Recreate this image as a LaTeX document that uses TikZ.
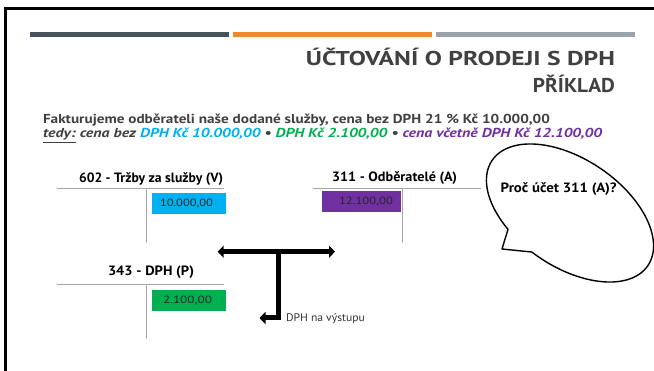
\documentclass[tikz,border=0pt]{standalone}
\usepackage{fontspec}
\setmainfont{PT Sans}
\usepackage{graphicx}
\usetikzlibrary{arrows.meta}
\definecolor{titlegray}{HTML}{404040}
\definecolor{bardark}{HTML}{47535A}
\definecolor{barorange}{HTML}{EE8A2D}
\definecolor{bargray}{HTML}{9AA2AA}
\definecolor{tacc}{HTML}{A6A6A6}
\definecolor{dcyan}{HTML}{00B0F0}
\definecolor{dgreen}{HTML}{00B050}
\definecolor{dpurple}{HTML}{7030A0}
\newcommand\fitto[2]{\resizebox{#1}{\height}{#2}}
\begin{document}
\begin{tikzpicture}[x=1pt,y=-1pt,
  txt/.style={inner sep=0pt, outer sep=0pt, anchor=base west},
  tacline/.style={draw=tacc, line width=1.4pt},
  amtbox/.style={inner sep=0pt, outer sep=0pt, anchor=north west},
  amt/.style={inner sep=0pt, outer sep=0pt, anchor=base west, text=black!85, font=\fontsize{10.5}{12}\selectfont},
  hdr/.style={inner sep=0pt, outer sep=0pt, anchor=base west, text=black, font=\fontsize{13.5}{16}\selectfont\bfseries},
  bigarrow/.style={line width=5pt, line join=miter},
  bubble/.style={draw=black, line width=1.4pt, line join=round}]
\useasboundingbox (0,0) rectangle (654,371);

% frame
\draw[line width=3pt, line join=miter] (5.5,371) -- (5.5,8.2) -- (654,8.2);

% top bars
\fill[bardark] (30,32) rectangle (229,37);
\fill[barorange] (233,32) rectangle (432,37);
\fill[bargray] (436,32) rectangle (635,37);

% title
\node[txt, anchor=base east, text=titlegray, font=\fontsize{20}{24}\selectfont\bfseries] (title1) at (615,66) {\fitto{309pt}{ÚČTOVÁNÍ O PRODEJI S DPH}};
\node[txt, anchor=base east, text=titlegray, font=\fontsize{20}{24}\selectfont\bfseries] (title2) at (615,93) {\fitto{82pt}{PŘÍKLAD}};

% subtitle
\node[txt, text=titlegray, font=\fontsize{13}{15}\selectfont\bfseries] (sub1) at (43,123.5) {\fitto{507pt}{Fakturujeme odběrateli naše dodané služby, cena bez DPH 21 \% Kč 10.000,00}};
\node[txt, text=titlegray, font=\fontsize{13}{15}\selectfont\bfseries\itshape] (sub2) at (43,138) {\fitto{559pt}{\underline{tedy:} cena bez \textcolor{dcyan}{DPH Kč 10.000,00} • \textcolor{dgreen}{DPH Kč 2.100,00} • \textcolor{dpurple}{cena včetně DPH Kč 12.100,00}}};

% account 602
\node[hdr] (h602) at (79,182.7) {\fitto{144pt}{602 - Tržby za služby (V)}};
\coordinate (l602a) at (57,188.3);
\coordinate (l602b) at (224,188.3);
\coordinate (v602a) at (146.7,188.3);
\coordinate (v602b) at (146.7,243);
\draw[tacline] (l602a) -- (l602b);
\draw[tacline] (v602a) -- (v602b);
\node[amtbox, fill=dcyan, minimum width=74pt, minimum height=21.3pt] (b602) at (151.7,192.7) {};
\node[amt] (a602) at (160,206.7) {\fitto{53pt}{10.000,00}};

% account 311
\node[hdr] (h311) at (332,182) {\fitto{125pt}{311 - Odběratelé (A)}};
\coordinate (l311a) at (313,188.3);
\coordinate (l311b) at (481,188.3);
\coordinate (v311a) at (402.7,188.3);
\coordinate (v311b) at (402.7,242.7);
\draw[tacline] (l311a) -- (l311b);
\draw[tacline] (v311a) -- (v311b);
\node[amtbox, fill=dpurple, minimum width=79pt, minimum height=21.6pt] (b311) at (321.7,190.7) {};
\node[amt] (a311) at (339,205) {\fitto{54pt}{12.100,00}};

% account 343
\node[hdr] (h343) at (108,276) {\fitto{86pt}{343 - DPH (P)}};
\coordinate (l343a) at (57,284.3);
\coordinate (l343b) at (224,284.3);
\coordinate (v343a) at (146.7,284.3);
\coordinate (v343b) at (146.7,339);
\draw[tacline] (l343a) -- (l343b);
\draw[tacline] (v343a) -- (v343b);
\node[amtbox, fill=dgreen, minimum width=74pt, minimum height=20.7pt] (b343) at (151.7,290) {};
\node[amt] (a343) at (163,304) {\fitto{49pt}{2.100,00}};

% T arrow
\coordinate (aL) at (217.7,251.7);
\coordinate (aR) at (335,251.7);
\coordinate (aT) at (278,251.7);
\coordinate (aE) at (259.5,318);
\draw[bigarrow, {Triangle[length=6pt,width=12pt]}-{Triangle[length=6pt,width=12pt]}] (aL) -- (aR);
\draw[bigarrow, -{Triangle[length=6pt,width=12pt]}] (aT) |- (aE);
\node[txt, text=black!80, font=\fontsize{11}{13}\selectfont] (dphv) at (286,321.7) {\fitto{79pt}{DPH na výstupu}};

% speech bubble
\coordinate (tip) at (502,249);
\draw[bubble] plot[domain=116.7:456, samples=140, smooth] ({570+77.93*cos(\x)-30.19*sin(\x)},{213+52.55*cos(\x)+44.77*sin(\x)}) -- (tip) -- cycle;
\node[hdr] (q) at (500.7,193) {\fitto{116pt}{Proč účet 311 (A)?}};
\end{tikzpicture}
\end{document}
